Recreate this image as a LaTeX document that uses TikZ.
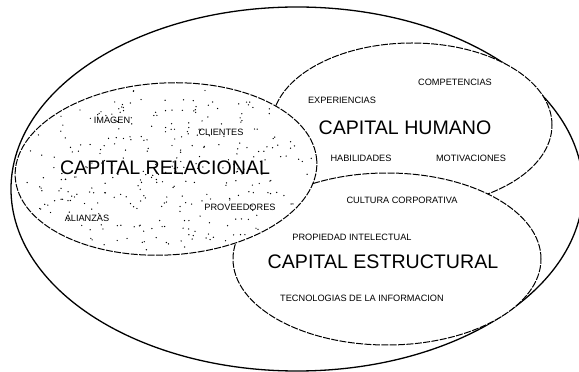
\documentclass[tikz,border=0pt]{standalone}
\usepackage{fontspec}
\setmainfont{Liberation Sans}
\begin{document}
\begin{tikzpicture}[x=1pt,y=1pt,
  frame/.style={line width=1.3pt},
  zone/.style={line width=1.0pt, dash pattern=on 7pt off 1.4pt, fill=white},
  title/.style={inner sep=0pt, font=\fontsize{19.6}{20}\selectfont},
  item/.style={inner sep=0pt, font=\fontsize{9.2}{10}\selectfont}]
\useasboundingbox (0,0) rectangle (579,372);

% outer boundary
\draw[frame] (297,183) ellipse [x radius=286, y radius=182];

% the three capitals, stacked so the front ones hide the back ones
\draw[zone] (412,247) ellipse [x radius=140, y radius=82];
\draw[zone] (387,113) ellipse [x radius=154, y radius=86];
\draw[zone] (166,203) ellipse [x radius=151, y radius=86, rotate=3];

% grain inside the relational area
\begin{scope}[shift={(166,203)}, rotate=3]
  \pgfmathsetseed{11}
  \foreach \i in {1,...,320}{
    \pgfmathsetmacro\ang{360*rnd}
    \pgfmathsetmacro\rad{sqrt(rnd)}
    \fill ({\rad*146*cos(\ang)},{\rad*82*sin(\ang)}) circle (0.7pt);
  }
\end{scope}

% relational capital
\node[title] (rel) at (165,204) {CAPITAL RELACIONAL};
\node[item] (imagen) at (112,252) {IMAGEN};
\node[item] (clientes) at (221,240) {CLIENTES};
\node[item] (alianzas) at (87,154) {ALIANZAS};
\node[item] (proveedores) at (240,165) {PROVEEDORES};

% human capital
\node[title] (hum) at (405,244) {CAPITAL HUMANO};
\node[item] (competencias) at (455,290) {COMPETENCIAS};
\node[item] (experiencias) at (342,272) {EXPERIENCIAS};
\node[item] (habilidades) at (361,214) {HABILIDADES};
\node[item] (motivaciones) at (471,214) {MOTIVACIONES};

% structural capital
\node[title] (est) at (383,110) {CAPITAL ESTRUCTURAL};
\node[item] (cultura) at (402,172) {CULTURA CORPORATIVA};
\node[item] (propiedad) at (352,135) {PROPIEDAD INTELECTUAL};
\node[item] (tecnologias) at (362,74) {TECNOLOGIAS DE LA INFORMACION};
\end{tikzpicture}
\end{document}
